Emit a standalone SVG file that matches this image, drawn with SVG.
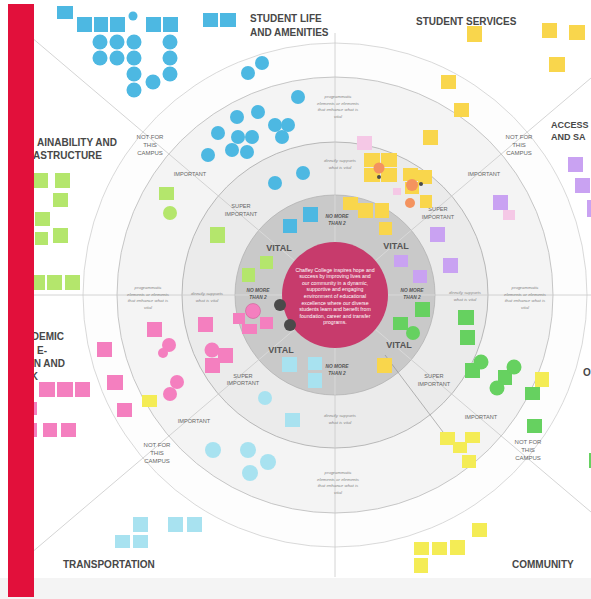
<svg xmlns="http://www.w3.org/2000/svg" width="591" height="599" viewBox="0 0 591 599">
<style>
.cat{font-family:"Liberation Sans",Arial,sans-serif;font-weight:bold;font-size:10px;fill:#474747}
.vital{font-family:"Liberation Sans",Arial,sans-serif;font-weight:bold;font-size:9px;fill:#555;text-anchor:middle}
.nm{font-family:"Liberation Sans",Arial,sans-serif;font-weight:bold;font-style:italic;font-size:4.8px;fill:#555;text-anchor:middle}
.lvl{font-family:"Liberation Sans",Arial,sans-serif;font-size:5.6px;fill:#666;text-anchor:middle}
.nf{font-family:"Liberation Sans",Arial,sans-serif;font-size:6px;fill:#666;text-anchor:middle}
.it{font-family:"Liberation Sans",Arial,sans-serif;font-style:italic;font-size:4.4px;fill:#888;text-anchor:middle}
.mis{font-family:"Liberation Sans",Arial,sans-serif;font-size:5.2px;fill:#fff;text-anchor:middle}
.ax{stroke:#c9c9c9;stroke-width:0.8;fill:none}
.axi{stroke:#dddddd;stroke-width:0.8;fill:none}
.blue{fill:#4db8e2}
.lg{fill:#b4e66c}
.yel{fill:#f9d64c}
.pur{fill:#c9a2f2}
.grn{fill:#66d160}
.pnk{fill:#f47fbf}
.lpk{fill:#f5c8e6}
.cyn{fill:#a8e2f0}
.cy{fill:#f4ec55}
.org{fill:#f4935f}
.drk{fill:#4a4a4a}
</style>
<rect x="0" y="0" width="591" height="599" fill="#ffffff"/>
<rect x="0" y="578" width="591" height="21" fill="#f4f4f4"/>

<g id="rings">
<circle cx="335" cy="295" r="252" fill="#fdfdfd" stroke="#cfcfcf" stroke-width="0.8"/>
<circle cx="335" cy="295" r="218" fill="#f4f4f4" stroke="#b9b9b9" stroke-width="0.8"/>
<circle cx="335" cy="295" r="153" fill="#ebebeb" stroke="#a8a8a8" stroke-width="0.8"/>
<circle cx="335" cy="295" r="100" fill="#c9c9c9" stroke="#b3b3b3" stroke-width="0.8"/>
</g>

<g id="connectors">
<line class="ax" x1="34" y1="295" x2="235" y2="295"/>
<line class="ax" x1="435" y1="295" x2="591" y2="295"/>
<line class="ax" x1="335" y1="33" x2="335" y2="195"/>
<line class="ax" x1="335" y1="395" x2="335" y2="577"/>
<line class="ax" x1="34" y1="39.5" x2="258.8" y2="230.3"/>
<line class="ax" x1="591" y1="78" x2="411.2" y2="230.3"/>
<line class="ax" x1="34" y1="550.5" x2="258.8" y2="359.7"/>
<line class="ax" x1="591" y1="512" x2="411.2" y2="359.7"/>
<line class="axi" x1="235" y1="295" x2="282" y2="295"/>
<line class="axi" x1="388" y1="295" x2="435" y2="295"/>
<line class="axi" x1="335" y1="195" x2="335" y2="242"/>
<line class="axi" x1="335" y1="348" x2="335" y2="395"/>
<line class="axi" x1="258.8" y1="230.3" x2="294.6" y2="260.7"/>
<line class="axi" x1="411.2" y1="230.3" x2="375.4" y2="260.7"/>
<line class="axi" x1="258.8" y1="359.7" x2="294.6" y2="329.3"/>
<line class="axi" x1="411.2" y1="359.7" x2="375.4" y2="329.3"/>
<line x1="385" y1="355" x2="443" y2="432" stroke="#8a8a8a" stroke-width="0.6"/>
</g>

<g id="ring-labels">
<text class="it"><tspan x="338" y="98">programmatic</tspan><tspan x="338" y="104.5">elements or elements</tspan><tspan x="338" y="111">that enhance what is</tspan><tspan x="338" y="117.5">vital</tspan></text>
<text class="it"><tspan x="148" y="289">programmatic</tspan><tspan x="148" y="295.5">elements or elements</tspan><tspan x="148" y="302">that enhance what is</tspan><tspan x="148" y="308.5">vital</tspan></text>
<text class="it"><tspan x="525" y="289">programmatic</tspan><tspan x="525" y="295.5">elements or elements</tspan><tspan x="525" y="302">that enhance what is</tspan><tspan x="525" y="308.5">vital</tspan></text>
<text class="it"><tspan x="338" y="474">programmatic</tspan><tspan x="338" y="480.5">elements or elements</tspan><tspan x="338" y="487">that enhance what is</tspan><tspan x="338" y="493.5">vital</tspan></text>
<text class="it"><tspan x="340" y="162">directly supports</tspan><tspan x="340" y="168.5">what is vital</tspan></text>
<text class="it"><tspan x="207" y="295">directly supports</tspan><tspan x="207" y="301.5">what is vital</tspan></text>
<text class="it"><tspan x="465" y="294">directly supports</tspan><tspan x="465" y="300.5">what is vital</tspan></text>
<text class="it"><tspan x="340" y="417">directly supports</tspan><tspan x="340" y="423.5">what is vital</tspan></text>
<text class="lvl"><tspan x="241" y="208">SUPER</tspan><tspan x="241" y="216">IMPORTANT</tspan></text>
<text class="lvl"><tspan x="438" y="211">SUPER</tspan><tspan x="438" y="218.5">IMPORTANT</tspan></text>
<text class="lvl"><tspan x="243" y="377.5">SUPER</tspan><tspan x="243" y="385">IMPORTANT</tspan></text>
<text class="lvl"><tspan x="434" y="378">SUPER</tspan><tspan x="434" y="386">IMPORTANT</tspan></text>
<text class="lvl" x="190" y="175.5">IMPORTANT</text>
<text class="lvl" x="484" y="176">IMPORTANT</text>
<text class="lvl" x="194" y="423">IMPORTANT</text>
<text class="lvl" x="481" y="419">IMPORTANT</text>
<text class="nf"><tspan x="150" y="139">NOT FOR</tspan><tspan x="150" y="147">THIS</tspan><tspan x="150" y="155">CAMPUS</tspan></text>
<text class="nf"><tspan x="519" y="138.5">NOT FOR</tspan><tspan x="519" y="146.5">THIS</tspan><tspan x="519" y="154.5">CAMPUS</tspan></text>
<text class="nf"><tspan x="157" y="447">NOT FOR</tspan><tspan x="157" y="455">THIS</tspan><tspan x="157" y="463">CAMPUS</tspan></text>
<text class="nf"><tspan x="528" y="444">NOT FOR</tspan><tspan x="528" y="452">THIS</tspan><tspan x="528" y="460">CAMPUS</tspan></text>
<text class="vital" x="279" y="251">VITAL</text>
<text class="vital" x="396" y="249">VITAL</text>
<text class="vital" x="281" y="353">VITAL</text>
<text class="vital" x="399" y="348">VITAL</text>
<text class="nm"><tspan x="337" y="217.5">NO MORE</tspan><tspan x="337" y="224.5">THAN 2</tspan></text>
<text class="nm"><tspan x="258" y="292">NO MORE</tspan><tspan x="258" y="299">THAN 2</tspan></text>
<text class="nm"><tspan x="412" y="292">NO MORE</tspan><tspan x="412" y="299">THAN 2</tspan></text>
<text class="nm"><tspan x="337" y="368">NO MORE</tspan><tspan x="337" y="375">THAN 2</tspan></text>
</g>

<g id="student-life">
<rect class="blue" x="57" y="6" width="16" height="13"/>
<rect class="blue" x="77" y="17" width="15" height="15"/>
<rect class="blue" x="94" y="17" width="14" height="15"/>
<rect class="blue" x="110" y="17" width="15" height="15"/>
<rect class="blue" x="146" y="17" width="15" height="15"/>
<rect class="blue" x="163" y="17" width="15" height="15"/>
<rect class="blue" x="203" y="13" width="15" height="14"/>
<rect class="blue" x="220" y="13" width="16" height="14"/>
<circle class="blue" cx="133" cy="16" r="4.5"/>
<circle class="blue" cx="100" cy="42" r="7.5"/>
<circle class="blue" cx="117" cy="42" r="7.5"/>
<circle class="blue" cx="134" cy="42" r="7.5"/>
<circle class="blue" cx="170" cy="42" r="7.5"/>
<circle class="blue" cx="100" cy="58" r="7.5"/>
<circle class="blue" cx="117" cy="58" r="7.5"/>
<circle class="blue" cx="134" cy="58" r="7.5"/>
<circle class="blue" cx="170" cy="58" r="7.5"/>
<circle class="blue" cx="134" cy="74" r="7.5"/>
<circle class="blue" cx="170" cy="74" r="7.5"/>
<circle class="blue" cx="153" cy="82" r="7.5"/>
<circle class="blue" cx="134" cy="90" r="7.5"/>
<circle class="blue" cx="262" cy="63" r="7"/>
<circle class="blue" cx="248" cy="73" r="7"/>
<circle class="blue" cx="298" cy="97" r="7"/>
<circle class="blue" cx="258" cy="112" r="7"/>
<circle class="blue" cx="237" cy="117" r="7"/>
<circle class="blue" cx="275" cy="125" r="7"/>
<circle class="blue" cx="288" cy="125" r="7"/>
<circle class="blue" cx="282" cy="137" r="7"/>
<circle class="blue" cx="218" cy="133" r="7"/>
<circle class="blue" cx="238" cy="137" r="7"/>
<circle class="blue" cx="252" cy="137" r="7"/>
<circle class="blue" cx="232" cy="150" r="7"/>
<circle class="blue" cx="247" cy="152" r="7"/>
<circle class="blue" cx="208" cy="155" r="7"/>
<circle class="blue" cx="303" cy="173" r="7"/>
<circle class="blue" cx="275" cy="183" r="7"/>
<rect class="blue" x="283" y="219" width="14" height="14"/>
<rect class="blue" x="303" y="207" width="15" height="15"/>
</g>

<g id="student-services">
<rect class="yel" x="467" y="26" width="15" height="16"/>
<rect class="yel" x="542" y="23" width="15" height="15"/>
<rect class="yel" x="569" y="25" width="16" height="15"/>
<rect class="yel" x="549" y="57" width="16" height="15"/>
<rect class="yel" x="441" y="75" width="15" height="14"/>
<rect class="yel" x="454" y="103" width="15" height="14"/>
<rect class="yel" x="423" y="130" width="15" height="15"/>
<rect class="lpk" x="357" y="136" width="15" height="14"/>
<rect class="yel" x="364" y="153" width="16" height="14"/>
<rect class="yel" x="381" y="153" width="16" height="14"/>
<rect class="yel" x="364" y="168" width="16" height="14"/>
<rect class="yel" x="381" y="168" width="16" height="14"/>
<circle class="org" cx="379" cy="168" r="5.5"/>
<circle class="drk" cx="379" cy="177" r="2"/>
<rect class="yel" x="403" y="168" width="15" height="13"/>
<rect class="yel" x="418" y="170" width="14" height="14"/>
<rect class="yel" x="405" y="182" width="14" height="12"/>
<rect class="yel" x="420" y="195" width="12" height="13"/>
<circle class="org" cx="412" cy="185" r="6"/>
<circle class="org" cx="410" cy="203" r="5"/>
<circle class="drk" cx="421" cy="184" r="2"/>
<rect class="lpk" x="393" y="188" width="8" height="7"/>
<rect class="yel" x="343" y="197" width="15" height="13"/>
<rect class="yel" x="358" y="203" width="15" height="15"/>
<rect class="yel" x="375" y="203" width="14" height="15"/>
<rect class="yel" x="379" y="222" width="13" height="13"/>
<rect class="yel" x="377" y="358" width="15" height="15"/>
</g>

<g id="access-safety">
<rect class="pur" x="493" y="195" width="15" height="15"/>
<rect class="lpk" x="503" y="210" width="12" height="10"/>
<rect class="pur" x="568" y="157" width="15" height="15"/>
<rect class="pur" x="575" y="178" width="15" height="15"/>
<rect class="pur" x="587" y="200" width="4" height="17"/>
<rect class="pur" x="430" y="227" width="15" height="15"/>
<rect class="pur" x="443" y="258" width="15" height="15"/>
<rect class="pur" x="394" y="255" width="14" height="12"/>
<rect class="pur" x="413" y="270" width="14" height="13"/>
</g>

<g id="operations">
<rect class="grn" x="415" y="302" width="15" height="15"/>
<rect class="grn" x="393" y="317" width="15" height="13"/>
<circle class="grn" cx="413" cy="333" r="7"/>
<rect class="grn" x="458" y="310" width="16" height="15"/>
<rect class="grn" x="460" y="330" width="15" height="15"/>
<rect class="grn" x="465" y="363" width="15" height="15"/>
<circle class="grn" cx="481" cy="362" r="7.5"/>
<rect class="grn" x="498" y="370" width="14" height="15"/>
<circle class="grn" cx="514" cy="367" r="7.5"/>
<circle class="grn" cx="497" cy="388" r="7.5"/>
<rect class="grn" x="525" y="387" width="15" height="13"/>
<rect class="grn" x="527" y="419" width="15" height="14"/>
<rect class="grn" x="589" y="453" width="3" height="15"/>
<rect class="cy" x="535" y="372" width="14" height="15"/>
</g>

<g id="sustainability">
<rect class="lg" x="33" y="173" width="15" height="15"/>
<rect class="lg" x="55" y="173" width="15" height="15"/>
<rect class="lg" x="53" y="193" width="15" height="14"/>
<rect class="lg" x="35" y="212" width="15" height="14"/>
<rect class="lg" x="53" y="228" width="15" height="15"/>
<rect class="lg" x="35" y="232" width="13" height="13"/>
<rect class="lg" x="33" y="275" width="12" height="15"/>
<rect class="lg" x="47" y="275" width="15" height="15"/>
<rect class="lg" x="65" y="275" width="15" height="15"/>
<rect class="lg" x="159" y="187" width="15" height="13"/>
<circle class="lg" cx="170" cy="213" r="7"/>
<rect class="lg" x="210" y="227" width="15" height="16"/>
<rect class="lg" x="260" y="256" width="13" height="13"/>
<rect class="lg" x="242" y="268" width="13" height="14"/>
</g>

<g id="academic">
<rect class="pnk" x="147" y="322" width="15" height="15"/>
<circle class="pnk" cx="169" cy="345" r="7"/>
<circle class="pnk" cx="163" cy="353" r="5"/>
<rect class="pnk" x="198" y="317" width="15" height="15"/>
<rect class="pnk" x="233" y="313" width="12" height="11"/>
<rect class="pnk" x="242" y="324" width="15" height="10"/>
<rect class="pnk" x="260" y="317" width="13" height="12"/>
<circle class="pnk" cx="253" cy="311" r="7.5" stroke="#c9538f" stroke-width="0.5"/>
<circle class="pnk" cx="212" cy="350" r="7.5"/>
<rect class="pnk" x="218" y="348" width="15" height="15"/>
<rect class="pnk" x="205" y="358" width="15" height="15"/>
<rect class="pnk" x="97" y="342" width="15" height="15"/>
<rect class="pnk" x="107" y="375" width="16" height="15"/>
<circle class="pnk" cx="177" cy="382" r="7"/>
<circle class="pnk" cx="170" cy="394" r="7"/>
<rect class="cy" x="142" y="395" width="15" height="12"/>
<rect class="pnk" x="117" y="403" width="15" height="14"/>
<rect class="pnk" x="39" y="382" width="16" height="15"/>
<rect class="pnk" x="57" y="382" width="16" height="15"/>
<rect class="pnk" x="75" y="382" width="15" height="15"/>
<rect class="pnk" x="33" y="402" width="4" height="13"/>
<rect class="pnk" x="33" y="423" width="4" height="14"/>
<rect class="pnk" x="43" y="423" width="14" height="14"/>
<rect class="pnk" x="61" y="423" width="15" height="14"/>
</g>

<g id="transportation">
<rect class="cyn" x="282" y="357" width="15" height="15"/>
<rect class="cyn" x="308" y="357" width="14" height="13"/>
<rect class="cyn" x="308" y="373" width="14" height="15"/>
<rect class="cyn" x="285" y="413" width="15" height="14"/>
<circle class="cyn" cx="265" cy="398" r="7"/>
<circle class="cyn" cx="213" cy="450" r="8"/>
<circle class="cyn" cx="248" cy="450" r="8"/>
<circle class="cyn" cx="268" cy="462" r="8"/>
<circle class="cyn" cx="250" cy="473" r="8"/>
<rect class="cyn" x="133" y="517" width="15" height="15"/>
<rect class="cyn" x="168" y="517" width="15" height="15"/>
<rect class="cyn" x="187" y="517" width="15" height="15"/>
<rect class="cyn" x="115" y="535" width="15" height="13"/>
<rect class="cyn" x="133" y="535" width="15" height="13"/>
</g>

<g id="community">
<rect class="cy" x="440" y="432" width="15" height="13"/>
<rect class="cy" x="465" y="432" width="15" height="11"/>
<rect class="cy" x="453" y="442" width="14" height="11"/>
<rect class="cy" x="462" y="455" width="14" height="13"/>
<rect class="cy" x="472" y="523" width="15" height="14"/>
<rect class="cy" x="414" y="542" width="15" height="13"/>
<rect class="cy" x="432" y="542" width="15" height="13"/>
<rect class="cy" x="450" y="540" width="15" height="15"/>
<rect class="cy" x="414" y="558" width="14" height="15"/>
</g>

<g id="mission">
<circle cx="335" cy="295" r="53" fill="#c73b6c"/>
<text class="mis"><tspan x="335" y="271.5">Chaffey College inspires hope and</tspan><tspan x="335" y="278.1">success by improving lives and</tspan><tspan x="335" y="284.7">our community in a dynamic,</tspan><tspan x="335" y="291.3">supportive and engaging</tspan><tspan x="335" y="297.9">environment of educational</tspan><tspan x="335" y="304.5">excellence where our diverse</tspan><tspan x="335" y="311.1">students learn and benefit from</tspan><tspan x="335" y="317.7">foundation, career and transfer</tspan><tspan x="335" y="324.3">programs.</tspan></text>
<circle class="drk" cx="280" cy="305" r="6"/>
<circle class="drk" cx="290" cy="325" r="6"/>
</g>

<g id="category-labels">
<text class="cat" x="250" y="21.5">STUDENT LIFE</text>
<text class="cat" x="250" y="35.5">AND AMENITIES</text>
<text class="cat" x="416" y="25">STUDENT SERVICES</text>
<text class="cat" x="551" y="128" style="font-size:9px">ACCESS</text>
<text class="cat" x="551" y="140" style="font-size:9px">AND SA</text>
<text class="cat" x="117" y="146" text-anchor="end">AINABILITY AND</text>
<text class="cat" x="102" y="158.5" text-anchor="end">ASTRUCTURE</text>
<text class="cat" x="64" y="340" text-anchor="end">DEMIC</text>
<text class="cat" x="47" y="353.5" text-anchor="end">E-</text>
<text class="cat" x="65" y="366.5" text-anchor="end">N AND</text>
<text class="cat" x="38" y="379.5" text-anchor="end">K</text>
<text class="cat" x="583" y="376">O</text>
<text class="cat" x="63" y="568">TRANSPORTATION</text>
<text class="cat" x="512" y="568">COMMUNITY</text>
</g>

<rect id="red-bar" x="8" y="4" width="26" height="593" fill="#e2103b"/>
</svg>
